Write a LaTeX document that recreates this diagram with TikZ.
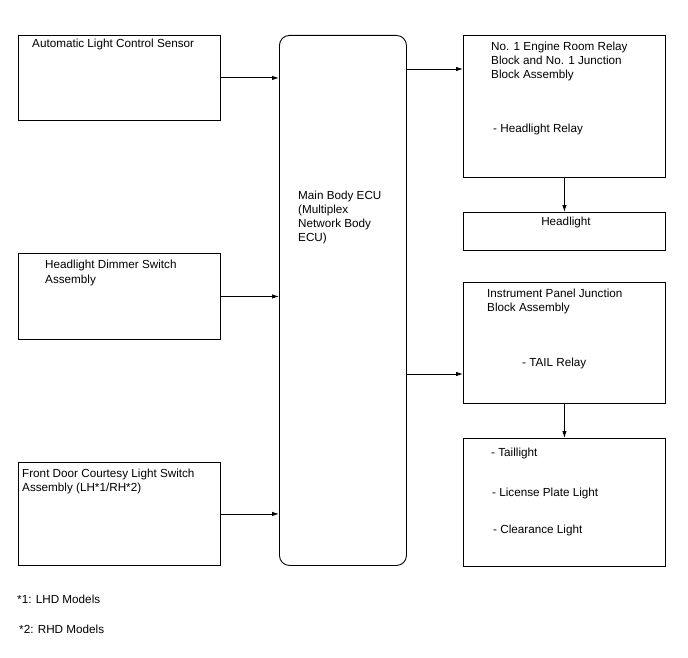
\documentclass[tikz,border=0pt]{standalone}
\usepackage{fontspec}
\setmainfont{Liberation Sans}
\usetikzlibrary{arrows.meta}
\tikzset{
    block/.style={draw, line width=0.9pt, inner sep=0pt, anchor=north west},
    txt/.style={anchor=base west, inner sep=0pt, font=\fontsize{11.7}{14}\selectfont},
    conn/.style={-{Latex[length=7pt,width=4.5pt]}, line width=0.9pt},
}
\begin{document}
\begin{tikzpicture}[x=1pt,y=-1pt]
        \useasboundingbox (0,0) rectangle (688,658);
    %Inputs
        \node[block, minimum width=202pt, minimum height=85pt] (sensor) at (18,35) {};
        \node[block, minimum width=202pt, minimum height=86pt] (dimmer) at (18,253) {};
        \node[block, minimum width=202pt, minimum height=103pt] (courtesy) at (18,462) {};
        \node[txt] (sensortxt) at (32,48) {Automatic Light Control Sensor};
        \node[txt] (dimmertxt1) at (45,268) {Headlight Dimmer Switch};
        \node[txt] (dimmertxt2) at (45,283) {Assembly};
        \node[txt] (courtesytxt1) at (22,477) {Front Door Courtesy Light Switch};
        \node[txt] (courtesytxt2) at (22,491) {Assembly (LH*1/RH*2)};
    %ECU
        \node[block, rounded corners=10pt, minimum width=127pt, minimum height=530pt] (ecu) at (279,35) {};
        \node[txt] (ecutxt1) at (298,199) {Main Body ECU};
        \node[txt] (ecutxt2) at (298,213) {(Multiplex};
        \node[txt] (ecutxt3) at (298,227) {Network Body};
        \node[txt] (ecutxt4) at (298,241) {ECU)};
    %Outputs
        \node[block, minimum width=202pt, minimum height=142pt] (relay) at (463,35) {};
        \node[block, minimum width=202pt, minimum height=38pt] (headlight) at (463,212) {};
        \node[block, minimum width=202pt, minimum height=121pt] (panel) at (463,282) {};
        \node[block, minimum width=202pt, minimum height=128pt] (tail) at (463,438) {};
        \node[txt] (relaytxt1) at (491,51) {No. 1 Engine Room Relay};
        \node[txt] (relaytxt2) at (491,65) {Block and No. 1 Junction};
        \node[txt] (relaytxt3) at (491,79) {Block Assembly};
        \node[txt] (relaytxt4) at (493,132) {- Headlight Relay};
        \node[txt, anchor=base] (headlighttxt) at (566,225) {Headlight};
        \node[txt] (paneltxt1) at (487,297) {Instrument Panel Junction};
        \node[txt] (paneltxt2) at (487,311) {Block Assembly};
        \node[txt] (paneltxt3) at (522,366) {- TAIL Relay};
        \node[txt] (tailtxt1) at (491,456) {- Taillight};
        \node[txt] (tailtxt2) at (492,496) {- License Plate Light};
        \node[txt] (tailtxt3) at (493,533) {- Clearance Light};
    %Notes
        \node[txt] (note1) at (17,603) {*1: LHD Models};
        \node[txt] (note2) at (19,633) {*2: RHD Models};
    %Connections
        \coordinate (relayin) at (463,69);
        \coordinate (panelin) at (463,374);
        \draw[conn] (sensor.east) -- (sensor.east -| ecu.west);
        \draw[conn] (dimmer.east) -- (dimmer.east -| ecu.west);
        \draw[conn] (courtesy.east) -- (courtesy.east -| ecu.west);
        \draw[conn] (ecu.east |- relayin) -- (relayin);
        \draw[conn] (ecu.east |- panelin) -- (panelin);
        \draw[conn] (relay.south) -- (headlight.north);
        \draw[conn] (panel.south) -- (tail.north);
    \end{tikzpicture}
\end{document}
